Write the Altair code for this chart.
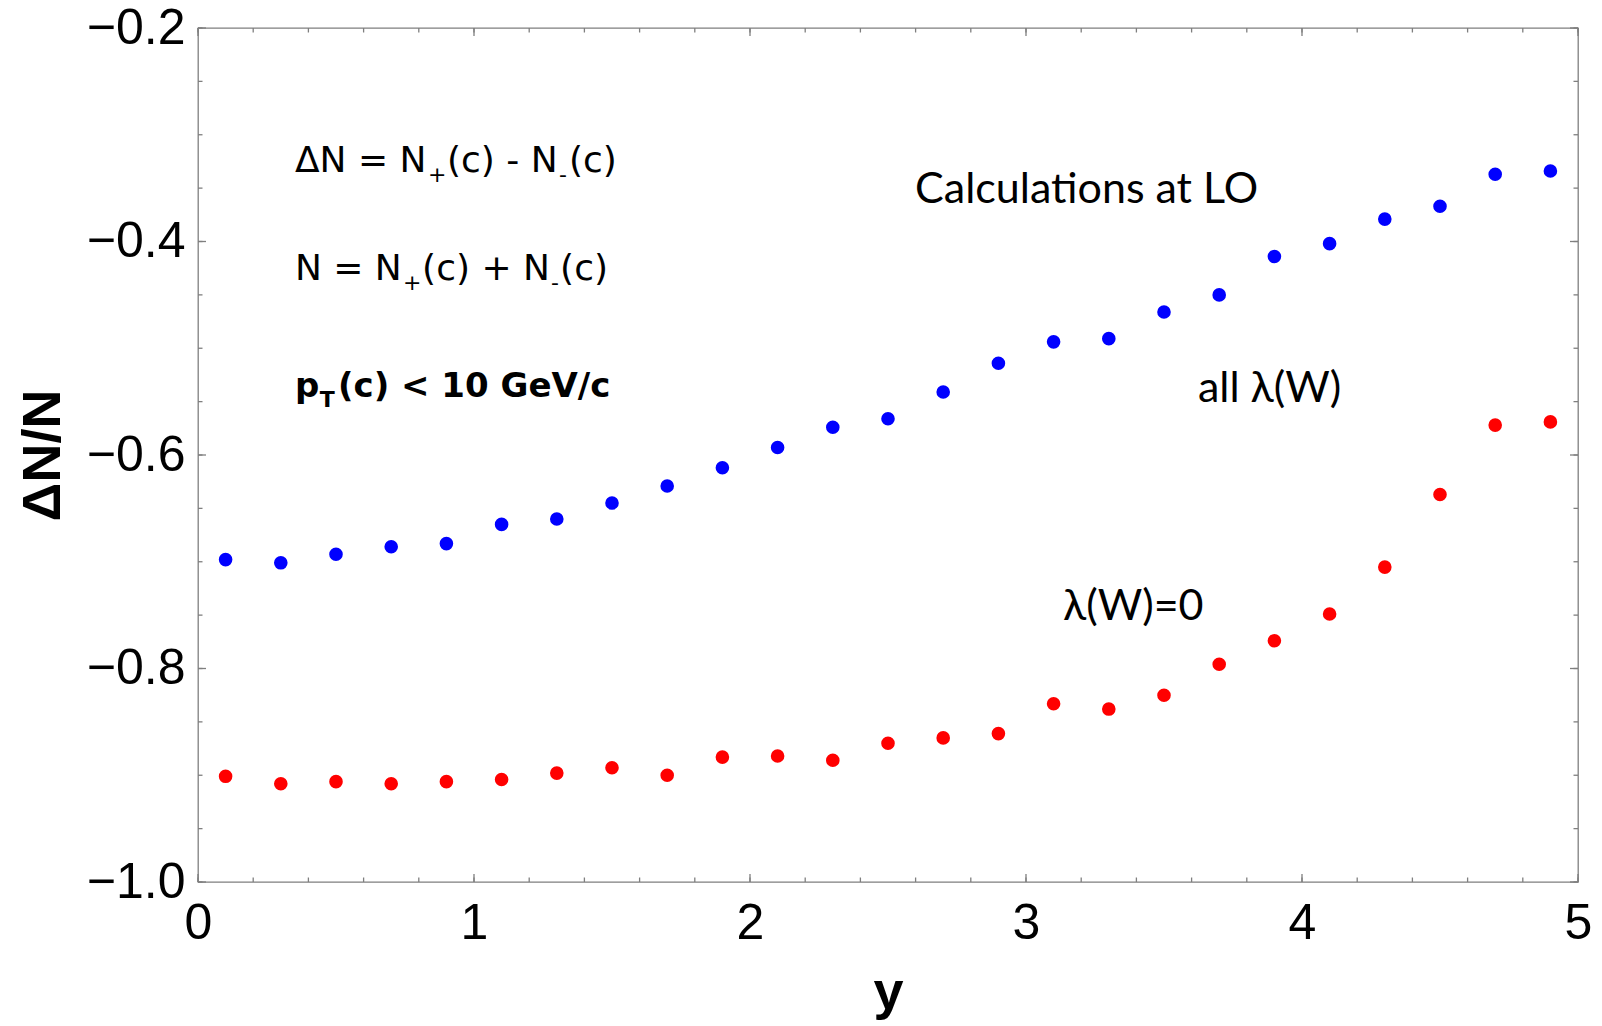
import altair as alt
import pandas as pd

# Rapidity bins and the charge asymmetry ΔN/N computed in each bin
rapidity = [0.1, 0.3, 0.5, 0.7, 0.9, 1.1, 1.3, 1.5, 1.7, 1.9, 2.1, 2.3, 2.5,
            2.7, 2.9, 3.1, 3.3, 3.5, 3.7, 3.9, 4.1, 4.3, 4.5, 4.7, 4.9]
asym_all_lambda = [-0.698, -0.701, -0.693, -0.686, -0.683, -0.665, -0.660, -0.645,
                   -0.629, -0.612, -0.593, -0.574, -0.566, -0.541, -0.514, -0.494,
                   -0.491, -0.466, -0.450, -0.414, -0.402, -0.379, -0.367, -0.337,
                   -0.334]
asym_lambda_zero = [-0.901, -0.908, -0.906, -0.908, -0.906, -0.904, -0.898, -0.893,
                    -0.900, -0.883, -0.882, -0.886, -0.870, -0.865, -0.861, -0.833,
                    -0.838, -0.825, -0.796, -0.774, -0.749, -0.705, -0.637, -0.572,
                    -0.569]
series_names = ["all λ(W)", "λ(W)=0"]
series_colors = ["#0000ff", "#ff0000"]

x_tick_labels = [0, 1, 2, 3, 4, 5]
y_tick_labels = [-1.0, -0.8, -0.6, -0.4, -0.2]
x_minor = [round(0.2 * i, 1) for i in range(26)]
y_minor = [round(-1.0 + 0.05 * i, 2) for i in range(17)]

# Formula block (regular weight); subscripts are separate, smaller pieces
formula_text = ["ΔN = N", "+", "(c) - N", "-", "(c)",
                "N = N", "+", "(c) + N", "-", "(c)"]
formula_x = [0.351, 0.833, 0.902, 1.308, 1.344,
             0.351, 0.743, 0.812, 1.279, 1.312]
formula_y = [-0.335, -0.344, -0.335, -0.344, -0.335,
             -0.436, -0.445, -0.436, -0.445, -0.436]
formula_size = [36, 22, 36, 22, 36, 36, 22, 36, 22, 36]

# Bold transverse-momentum cut
cut_text = ["p", "T", "(c) < 10 GeV/c"]
cut_x = [0.351, 0.441, 0.507]
cut_y = [-0.546, -0.555, -0.546]
cut_size = [34, 22, 34]

# Labels on the right-hand side
label_text = ["Calculations at LO", "all λ(W)", "λ(W)=0"]
label_x = [2.598, 3.623, 3.134]
label_y = [-0.364, -0.550, -0.755]

W, H = 1380, 854
FRAME = "#7f7f7f"
AXIS_FONT = "Liberation Sans"

xs = alt.Scale(domain=[0, 5], nice=False, zero=False)
ys = alt.Scale(domain=[-1.0, -0.2], nice=False, zero=False)

x_axis = alt.Axis(
    values=x_tick_labels, format="d", domain=False, ticks=False, tickSize=0,
    grid=False, labelFont=AXIS_FONT, labelFontSize=50, labelColor="black",
    labelPadding=16, labelFlush=False, labelOverlap=False,
    title="y", titleFont=AXIS_FONT, titleFontSize=54, titleFontWeight="bold",
    titleColor="black", titleX=W / 2, titleY=126, titleAlign="center",
    titleBaseline="alphabetic")
y_axis = alt.Axis(
    values=y_tick_labels, format=".1f", domain=False, ticks=False, tickSize=0,
    grid=False, labelFont=AXIS_FONT, labelFontSize=50, labelColor="black",
    labelPadding=13, labelFlush=False, labelOverlap=False,
    title="ΔN/N", titleFont=AXIS_FONT, titleFontSize=54, titleFontWeight="bold",
    titleColor="black", titleX=-139, titleY=H / 2, titleAngle=270,
    titleAlign="center", titleBaseline="alphabetic")


def xenc(field):
    return alt.X(field, scale=xs, axis=x_axis, title="y")


def yenc(field):
    return alt.Y(field, scale=ys, axis=y_axis, title="ΔN/N")


points_df = pd.DataFrame({
    "rapidity": rapidity * 2,
    "asym": asym_all_lambda + asym_lambda_zero,
    "series": [series_names[0]] * len(rapidity) + [series_names[1]] * len(rapidity),
})

points = alt.Chart(points_df).mark_circle(size=185, opacity=1).encode(
    x=xenc("rapidity:Q"),
    y=yenc("asym:Q"),
    color=alt.Color("series:N", scale=alt.Scale(domain=series_names, range=series_colors),
                    legend=None),
)


def x_ticks(values, length, side):
    d = pd.DataFrame({"t": values})
    if side == "bottom":
        yy, yy2 = alt.value(H), alt.value(H - length)
    else:
        yy, yy2 = alt.value(0), alt.value(length)
    return alt.Chart(d).mark_rule(color=FRAME, strokeWidth=1.3).encode(
        x=xenc("t:Q"), y=yy, y2=yy2)


def y_ticks(values, length, side):
    d = pd.DataFrame({"t": values})
    if side == "left":
        xx, xx2 = alt.value(0), alt.value(length)
    else:
        xx, xx2 = alt.value(W), alt.value(W - length)
    return alt.Chart(d).mark_rule(color=FRAME, strokeWidth=1.3).encode(
        y=yenc("t:Q"), x=xx, x2=xx2)


tick_layers = []
for side in ("bottom", "top"):
    tick_layers.append(x_ticks(x_minor, 4.5, side))
    tick_layers.append(x_ticks(x_tick_labels, 8, side))
for side in ("left", "right"):
    tick_layers.append(y_ticks(y_minor, 4.5, side))
    tick_layers.append(y_ticks(y_tick_labels, 8, side))


def text_layer(texts, xv, yv, sizes, font, weight="normal"):
    d = pd.DataFrame({"label": texts, "px": xv, "py": yv, "fs": sizes})
    return alt.Chart(d).mark_text(
        align="left", baseline="alphabetic", font=font, fontWeight=weight, color="black"
    ).encode(
        x=xenc("px:Q"),
        y=yenc("py:Q"),
        text="label:N",
        size=alt.Size("fs:Q", scale=None, legend=None),
    )


formula = text_layer(formula_text, formula_x, formula_y, formula_size, "DejaVu Sans")
cut = text_layer(cut_text, cut_x, cut_y, cut_size, "DejaVu Sans", "bold")
labels = text_layer(label_text, label_x, label_y, [43] * 3, "Lato")

chart = alt.layer(points, *tick_layers, formula, cut, labels).properties(
    width=W, height=H,
    padding={"left": 198, "top": 28, "right": 24, "bottom": 144},
    autosize=alt.AutoSizeParams(type="none"),
    background="white",
).configure_view(stroke=FRAME, strokeWidth=1.3)

chart.save("out.html", embed_options={"renderer": "svg", "actions": False})
